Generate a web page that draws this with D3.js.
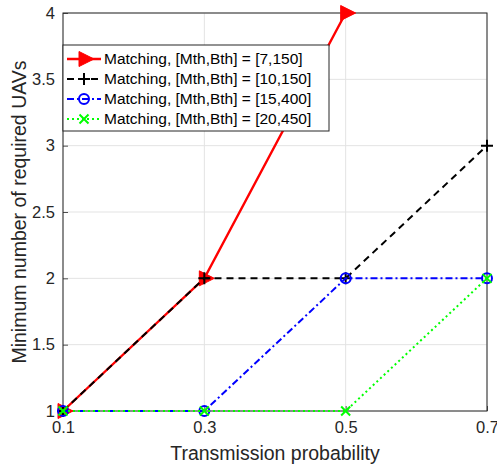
<!DOCTYPE html>
<html>
<head>
<meta charset="utf-8">
<script src="https://cdn.jsdelivr.net/npm/d3@7"></script>
<style>
  html, body { margin: 0; padding: 0; background: #fff; }
  svg { display: block; font-family: "Liberation Sans", Arial, sans-serif; }
</style>
</head>
<body>
<svg id="chart" width="497" height="468"></svg>
<script>
// Transmission probabilities on the x axis
const xValues = [0.1, 0.3, 0.5, 0.7];
const xTicks = [0.1, 0.3, 0.5, 0.7];
const yTicks = [1, 1.5, 2, 2.5, 3, 3.5, 4];

// Minimum number of UAVs per threshold setting
const seriesNames = [
  "Matching, [Mth,Bth] = [7,150]",
  "Matching, [Mth,Bth] = [10,150]",
  "Matching, [Mth,Bth] = [15,400]",
  "Matching, [Mth,Bth] = [20,450]"
];
const uavs7_150 = [1, 2, 4];
const uavs10_150 = [1, 2, 2, 3];
const uavs15_400 = [1, 1, 2, 2];
const uavs20_450 = [1, 1, 1, 2];

const styles = [
  { color: "#ff0000", dash: null, width: 2.4, marker: "triangle" },
  { color: "#000000", dash: "7,5", width: 2, marker: "plus" },
  { color: "#0000ff", dash: "7,3,2,3", width: 2, marker: "circle" },
  { color: "#00ff00", dash: "2,3", width: 2, marker: "cross" }
];
const seriesData = [uavs7_150, uavs10_150, uavs15_400, uavs20_450];

const svg = d3.select("#chart");
const margin = { left: 63, right: 10, top: 13, bottom: 57 };
const W = 497, H = 468;
const x = d3.scaleLinear().domain([0.1, 0.7]).range([margin.left, W - margin.right]);
const y = d3.scaleLinear().domain([1, 4]).range([H - margin.bottom, margin.top]);
const axisColor = "#262626";

// grid
svg.append("g").selectAll("line.gx").data(xTicks).join("line")
  .attr("x1", d => x(d)).attr("x2", d => x(d))
  .attr("y1", y(1)).attr("y2", y(4))
  .attr("stroke", "#e3e3e3").attr("stroke-width", 1);
svg.append("g").selectAll("line.gy").data(yTicks).join("line")
  .attr("x1", x(0.1)).attr("x2", x(0.7))
  .attr("y1", d => y(d)).attr("y2", d => y(d))
  .attr("stroke", "#e3e3e3").attr("stroke-width", 1);

// axes
const xAxis = d3.axisBottom(x).tickValues(xTicks).tickSizeInner(-5).tickSizeOuter(0)
  .tickFormat(d3.format(".1f")).tickPadding(10);
const yAxis = d3.axisLeft(y).tickValues(yTicks).tickSizeInner(-5).tickSizeOuter(0)
  .tickFormat(d => d3.format("")(d)).tickPadding(8);

const gx = svg.append("g").attr("transform", `translate(0,${y(1)})`).call(xAxis);
const gy = svg.append("g").attr("transform", `translate(${x(0.1)},0)`).call(yAxis);
[gx, gy].forEach(g => {
  g.select(".domain").remove();
  g.selectAll(".tick line").attr("stroke", axisColor).attr("stroke-width", 0.8);
  g.selectAll(".tick text").attr("fill", axisColor).style("font-size", "16.5px")
    .style("font-family", "Liberation Sans, Arial, sans-serif");
});
gx.selectAll(".tick text").attr("dy", "0.71em");

// box
svg.append("rect")
  .attr("x", x(0.1)).attr("y", y(4))
  .attr("width", x(0.7) - x(0.1)).attr("height", y(1) - y(4))
  .attr("fill", "none").attr("stroke", axisColor).attr("stroke-width", 1);

// axis labels
svg.append("text")
  .attr("x", (x(0.1) + x(0.7)) / 2).attr("y", 460)
  .attr("text-anchor", "middle").attr("fill", axisColor)
  .style("font-size", "19.5px").text("Transmission probability");
svg.append("text")
  .attr("transform", `translate(26,${(y(1) + y(4)) / 2}) rotate(-90)`)
  .attr("text-anchor", "middle").attr("fill", axisColor)
  .style("font-size", "19.5px").text("Minimum number of required UAVs");

// marker drawing
function drawMarker(g, type, color, cx, cy) {
  if (type === "triangle") {
    g.append("path")
      .attr("d", `M${cx - 5},${cy - 7.5} L${cx + 10},${cy} L${cx - 5},${cy + 7.5} Z`)
      .attr("fill", color).attr("stroke", color).attr("stroke-width", 1);
  } else if (type === "plus") {
    g.append("path")
      .attr("d", `M${cx - 6},${cy} H${cx + 6} M${cx},${cy - 6} V${cy + 6}`)
      .attr("stroke", color).attr("stroke-width", 2).attr("fill", "none");
  } else if (type === "circle") {
    g.append("circle").attr("cx", cx).attr("cy", cy).attr("r", 5)
      .attr("fill", "none").attr("stroke", color).attr("stroke-width", 2);
  } else if (type === "cross") {
    g.append("path")
      .attr("d", `M${cx - 4.5},${cy - 4.5} L${cx + 4.5},${cy + 4.5} M${cx - 4.5},${cy + 4.5} L${cx + 4.5},${cy - 4.5}`)
      .attr("stroke", color).attr("stroke-width", 2).attr("fill", "none");
  }
}

const line = d3.line().x((d, i) => x(xValues[i])).y(d => y(d));

seriesData.forEach((vals, k) => {
  const s = styles[k];
  const g = svg.append("g");
  g.append("path").datum(vals).attr("d", line)
    .attr("fill", "none").attr("stroke", s.color).attr("stroke-width", s.width)
    .attr("stroke-dasharray", s.dash);
  vals.forEach((v, i) => drawMarker(g, s.marker, s.color, x(xValues[i]), y(v)));
});

// legend
const lg = svg.append("g");
const lx = 63, ly = 45, lw = 266, lh = 86;
lg.append("rect").attr("x", lx).attr("y", ly).attr("width", lw).attr("height", lh)
  .attr("fill", "#fff").attr("stroke", "#262626").attr("stroke-width", 1);
seriesNames.forEach((name, k) => {
  const s = styles[k];
  const cy = ly + 14 + k * 20;
  lg.append("line").attr("x1", lx + 4).attr("x2", lx + 38).attr("y1", cy).attr("y2", cy)
    .attr("stroke", s.color).attr("stroke-width", s.width).attr("stroke-dasharray", s.dash);
  drawMarker(lg, s.marker, s.color, lx + 21, cy);
  lg.append("text").attr("x", lx + 41).attr("y", cy).attr("dy", "0.35em")
    .attr("fill", "#000").style("font-size", "15.5px").text(name);
});
</script>
</body>
</html>
